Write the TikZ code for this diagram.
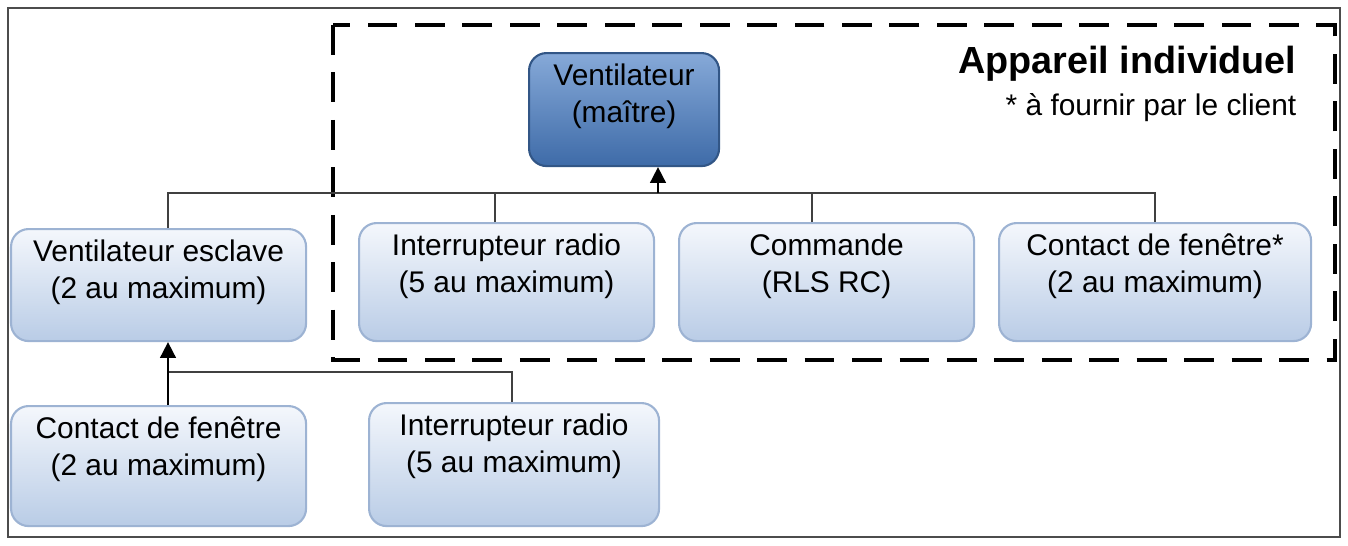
\documentclass[tikz,border=0pt]{standalone}
\usepackage{fontspec}
\setmainfont{Liberation Sans}
\usetikzlibrary{calc,arrows.meta}
\definecolor{boxtop}{HTML}{F4F7FC}
\definecolor{boxbot}{HTML}{B9CCE6}
\definecolor{boxline}{HTML}{9DB3D3}
\definecolor{mtop}{HTML}{86A9D8}
\definecolor{mbot}{HTML}{3E6BA8}
\tikzset{
  box/.style={draw=boxline,line width=1.2pt,rounded corners=10pt,top color=boxtop,bottom color=boxbot,anchor=north west,inner sep=0pt},
  master/.style={box,draw=mbot!80!black,top color=mtop,bottom color=mbot},
  link/.style={draw=black!75,line width=1pt},
  up/.style={link,draw=black,-{Triangle[length=9pt,width=9pt]}}
}
\newcommand{\boxtext}[3]{\parbox[c][#2][t]{#1}{\centering\vspace{6pt}\fontsize{17}{21}\selectfont #3}}
\begin{document}
\begin{tikzpicture}
\useasboundingbox (0,0) rectangle (26.96,-10.9);
\draw[black!70,line width=0.8pt] (0.16,-0.16) rectangle (26.8,-10.74);
\draw[line width=2.8pt,dash pattern=on 17pt off 10pt] (6.66,-0.5) rectangle (26.7,-7.2);

\node[master] (master) at (10.56,-1.04) {\boxtext{3.8cm}{2.26cm}{Ventilateur\\(maître)}};
\node[anchor=north east,font=\fontsize{21.5}{26}\selectfont\bfseries] (titre) at (26.05,-0.8) {Appareil individuel};
\node[anchor=north east,font=\fontsize{17}{20}\selectfont] (note) at (26.05,-1.75) {* à fournir par le client};

\node[box] (esclave) at (0.2,-4.56) {\boxtext{5.9cm}{2.24cm}{Ventilateur esclave\\(2 au maximum)}};
\node[box] (radio) at (7.16,-4.44) {\boxtext{5.9cm}{2.36cm}{Interrupteur radio\\(5 au maximum)}};
\node[box] (commande) at (13.56,-4.44) {\boxtext{5.9cm}{2.36cm}{Commande\\(RLS RC)}};
\node[box] (fenetre) at (19.96,-4.44) {\boxtext{6.24cm}{2.36cm}{Contact de fenêtre*\\(2 au maximum)}};

\node[box] (fenetreB) at (0.2,-8.1) {\boxtext{5.9cm}{2.4cm}{Contact de fenêtre\\(2 au maximum)}};
\node[box] (radioB) at (7.36,-8.04) {\boxtext{5.8cm}{2.46cm}{Interrupteur radio\\(5 au maximum)}};

% bus du maitre
\coordinate (bus) at (13.16,-3.86);
\draw[link] (esclave.north -| 3.36,0) |- (bus) -| (fenetre.north -| 23.1,0);
\draw[link] (radio.north -| 9.9,0) -- (9.9,-3.86);
\draw[link] (commande.north -| 16.24,0) -- (16.24,-3.86);
\draw[up] (bus) -- (bus |- master.south);

% bus de l'esclave
\coordinate (busB) at (3.36,-7.44);
\draw[link] (busB) -| (radioB.north -| 10.24,0);
\draw[up] (fenetreB.north -| busB) -- (esclave.south -| busB);
\end{tikzpicture}
\end{document}
